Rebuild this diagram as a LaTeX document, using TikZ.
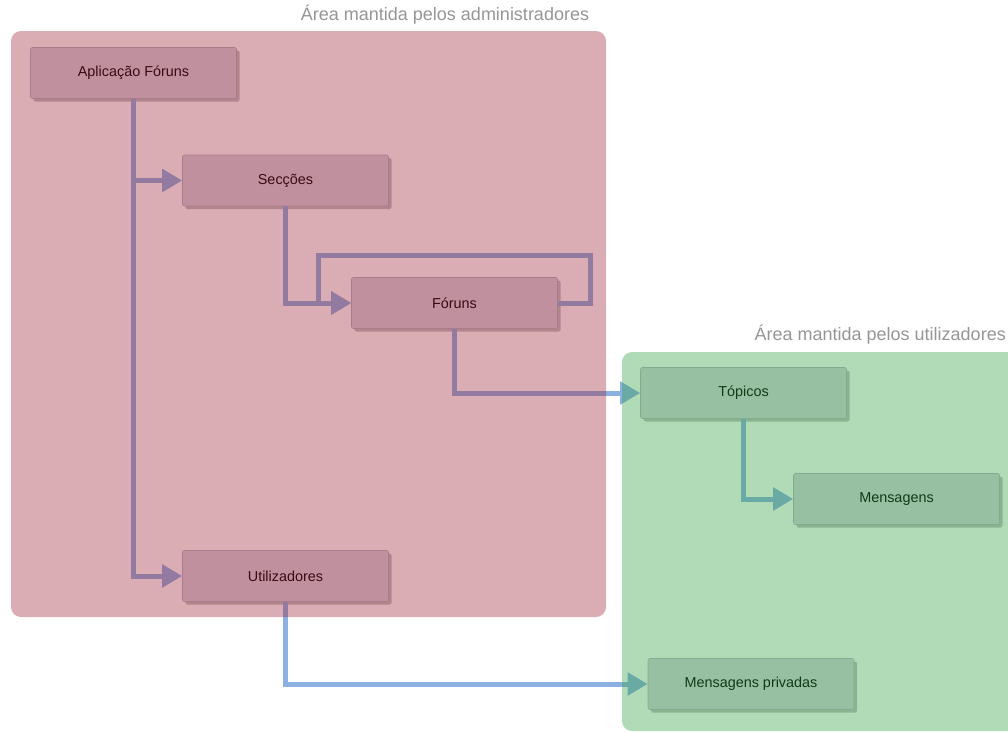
\documentclass[tikz,border=0pt]{standalone}
\usepackage{fontspec}
\setmainfont{Liberation Sans}
\usetikzlibrary{shadows,arrows.meta}
\definecolor{conncol}{RGB}{141,176,226}
\definecolor{nodefill}{RGB}{214,212,222}
\definecolor{nodeline}{RGB}{180,178,192}
\definecolor{redarea}{RGB}{155,30,50}
\definecolor{greenarea}{RGB}{45,160,60}
\definecolor{titlegray}{RGB}{150,150,150}
\tikzset{
  box/.style={draw=nodeline, line width=0.6pt, fill=nodefill, rounded corners=2pt,
    minimum width=206pt, minimum height=51pt, inner sep=0pt,
    font=\fontsize{14.4}{17}\selectfont,
    drop shadow={shadow xshift=3pt, shadow yshift=-3pt, opacity=0.4, fill=black!60}},
  conn/.style={draw=conncol, line width=5pt, -{Triangle[length=20pt,width=22pt]}},
  connplain/.style={draw=conncol, line width=5pt},
  area/.style={rounded corners=10pt, fill opacity=0.37},
  areatitle/.style={text=titlegray, font=\fontsize{18}{21}\selectfont, inner sep=0pt}
}
\begin{document}
\begin{tikzpicture}[x=1pt,y=-1pt]
\useasboundingbox (0,0) rectangle (1008,731);
\fill[white] (0,0) rectangle (1008,731);

% nodes
\node[box] (app) at (133.5,73) {Aplicação Fóruns};
\node[box] (sec) at (285.5,180.5) {Secções};
\node[box] (for) at (454.5,303) {Fóruns};
\node[box] (top) at (743.5,393) {Tópicos};
\node[box] (men) at (896.5,499) {Mensagens};
\node[box] (uti) at (285.5,576) {Utilizadores};
\node[box] (mp)  at (751,684) {Mensagens privadas};

\coordinate (loopA) at (590,255);
\coordinate (loopB) at (318.5,255);

% connectors
\draw[connplain] (app.south) -- (app.south |- sec.west);
\draw[conn] (app.south) |- (uti.west);
\draw[conn] (app.south |- sec.west) -- (sec.west);
\draw[conn] (sec.south) |- (for.west);
\draw[conn] (for.east) -| (loopA) -- (loopB) |- (for.west);
\draw[conn] (for.south) |- (top.west);
\draw[conn] (top.south) |- (men.west);
\draw[conn] (uti.south) |- (mp.west);

% areas (overlays)
\fill[area, fill=redarea] (11,31) rectangle (606,617);
\begin{scope}
\clip (0,0) rectangle (1008,731);
\fill[area, fill=greenarea] (622,352) rectangle (1030,731);
\end{scope}

% area titles
\node[areatitle] (tadm) at (445,15) {Área mantida pelos administradores};
\node[areatitle, anchor=east] (tuti) at (1006,335) {Área mantida pelos utilizadores};
\end{tikzpicture}
\end{document}
